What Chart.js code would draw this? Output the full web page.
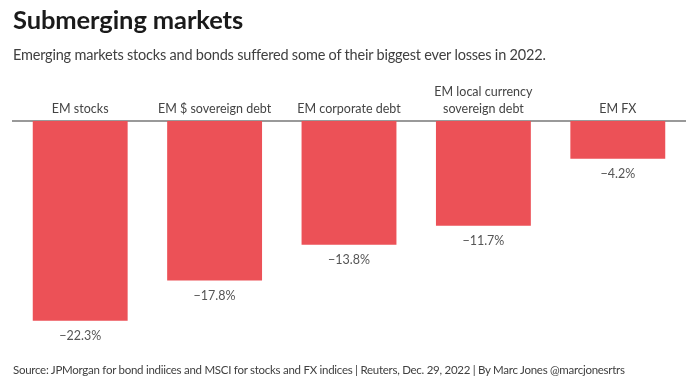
<!DOCTYPE html>
<html>
<head>
<meta charset="utf-8">
<script src="https://cdn.jsdelivr.net/npm/chart.js@4/dist/chart.umd.min.js"></script>
<style>
  body { margin: 0; background: #fff; font-family: Lato, sans-serif; }
  #wrap { position: relative; width: 694px; height: 390px; overflow: hidden; }
  #chart { position: absolute; left: 0; top: 0; }
  .title { position: absolute; left: 13px; top: 4px; font-size: 25.5px; font-weight: 700; color: #1a1a1a; letter-spacing: -0.1px; }
  .sub { position: absolute; left: 13px; top: 46px; font-size: 14.5px; color: #404040; letter-spacing: -0.2px; }
  .src { position: absolute; left: 13px; top: 363px; font-size: 11.5px; color: #404040; letter-spacing: -0.27px; }
</style>
</head>
<body>
<div id="wrap">
  <canvas id="chart" width="694" height="390"></canvas>
  <div class="title">Submerging markets</div>
  <div class="sub">Emerging markets stocks and bonds suffered some of their biggest ever losses in 2022.</div>
  <div class="src">Source: JPMorgan for bond indiices and MSCI for stocks and FX indices | Reuters, Dec. 29, 2022 | By Marc Jones @marcjonesrtrs</div>
</div>
<script>
const categories = [
  'EM stocks',
  'EM $ sovereign debt',
  'EM corporate debt',
  ['EM local currency', 'sovereign debt'],
  'EM FX',
];
const losses = [-22.3, -17.8, -13.8, -11.7, -4.2];

const barColor = '#ec5157';

// value labels under each bar
const valueLabels = {
  id: 'valueLabels',
  afterDatasetsDraw(chart) {
    const ctx = chart.ctx;
    const meta = chart.getDatasetMeta(0);
    ctx.save();
    ctx.font = '12.5px Lato, sans-serif';
    ctx.fillStyle = '#555';
    ctx.textAlign = 'center';
    ctx.textBaseline = 'middle';
    meta.data.forEach((bar, i) => {
      const v = losses[i];
      const txt = (v < 0 ? '\u2212' : '') + Math.abs(v).toFixed(1) + '%';
      ctx.fillText(txt, bar.x, bar.y + 15);
    });
    ctx.restore();
  },
};

new Chart(document.getElementById('chart'), {
  type: 'bar',
  data: {
    labels: categories,
    datasets: [{
      data: losses,
      backgroundColor: barColor,
      borderWidth: 0,
      categoryPercentage: 1,
      barPercentage: 0.706,
    }],
  },
  options: {
    responsive: false,
    animation: false,
    layout: { padding: { top: 71, bottom: 45, left: 13, right: 9 } },
    plugins: { legend: { display: false }, tooltip: { enabled: false } },
    scales: {
      x: {
        position: 'top',
        grid: { display: false, drawTicks: false },
        border: { display: true, color: '#999', width: 2 },
        ticks: {
          color: '#444',
          font: { family: 'Lato, sans-serif', size: 12.5, lineHeight: 1.35 },
          padding: 4,
          maxRotation: 0,
          autoSkip: false,
        },
        afterFit: (scale) => { scale.height = 50; },
      },
      y: {
        display: false,
        min: -25,
        max: 0,
      },
    },
  },
  plugins: [valueLabels],
});
</script>
</body>
</html>
